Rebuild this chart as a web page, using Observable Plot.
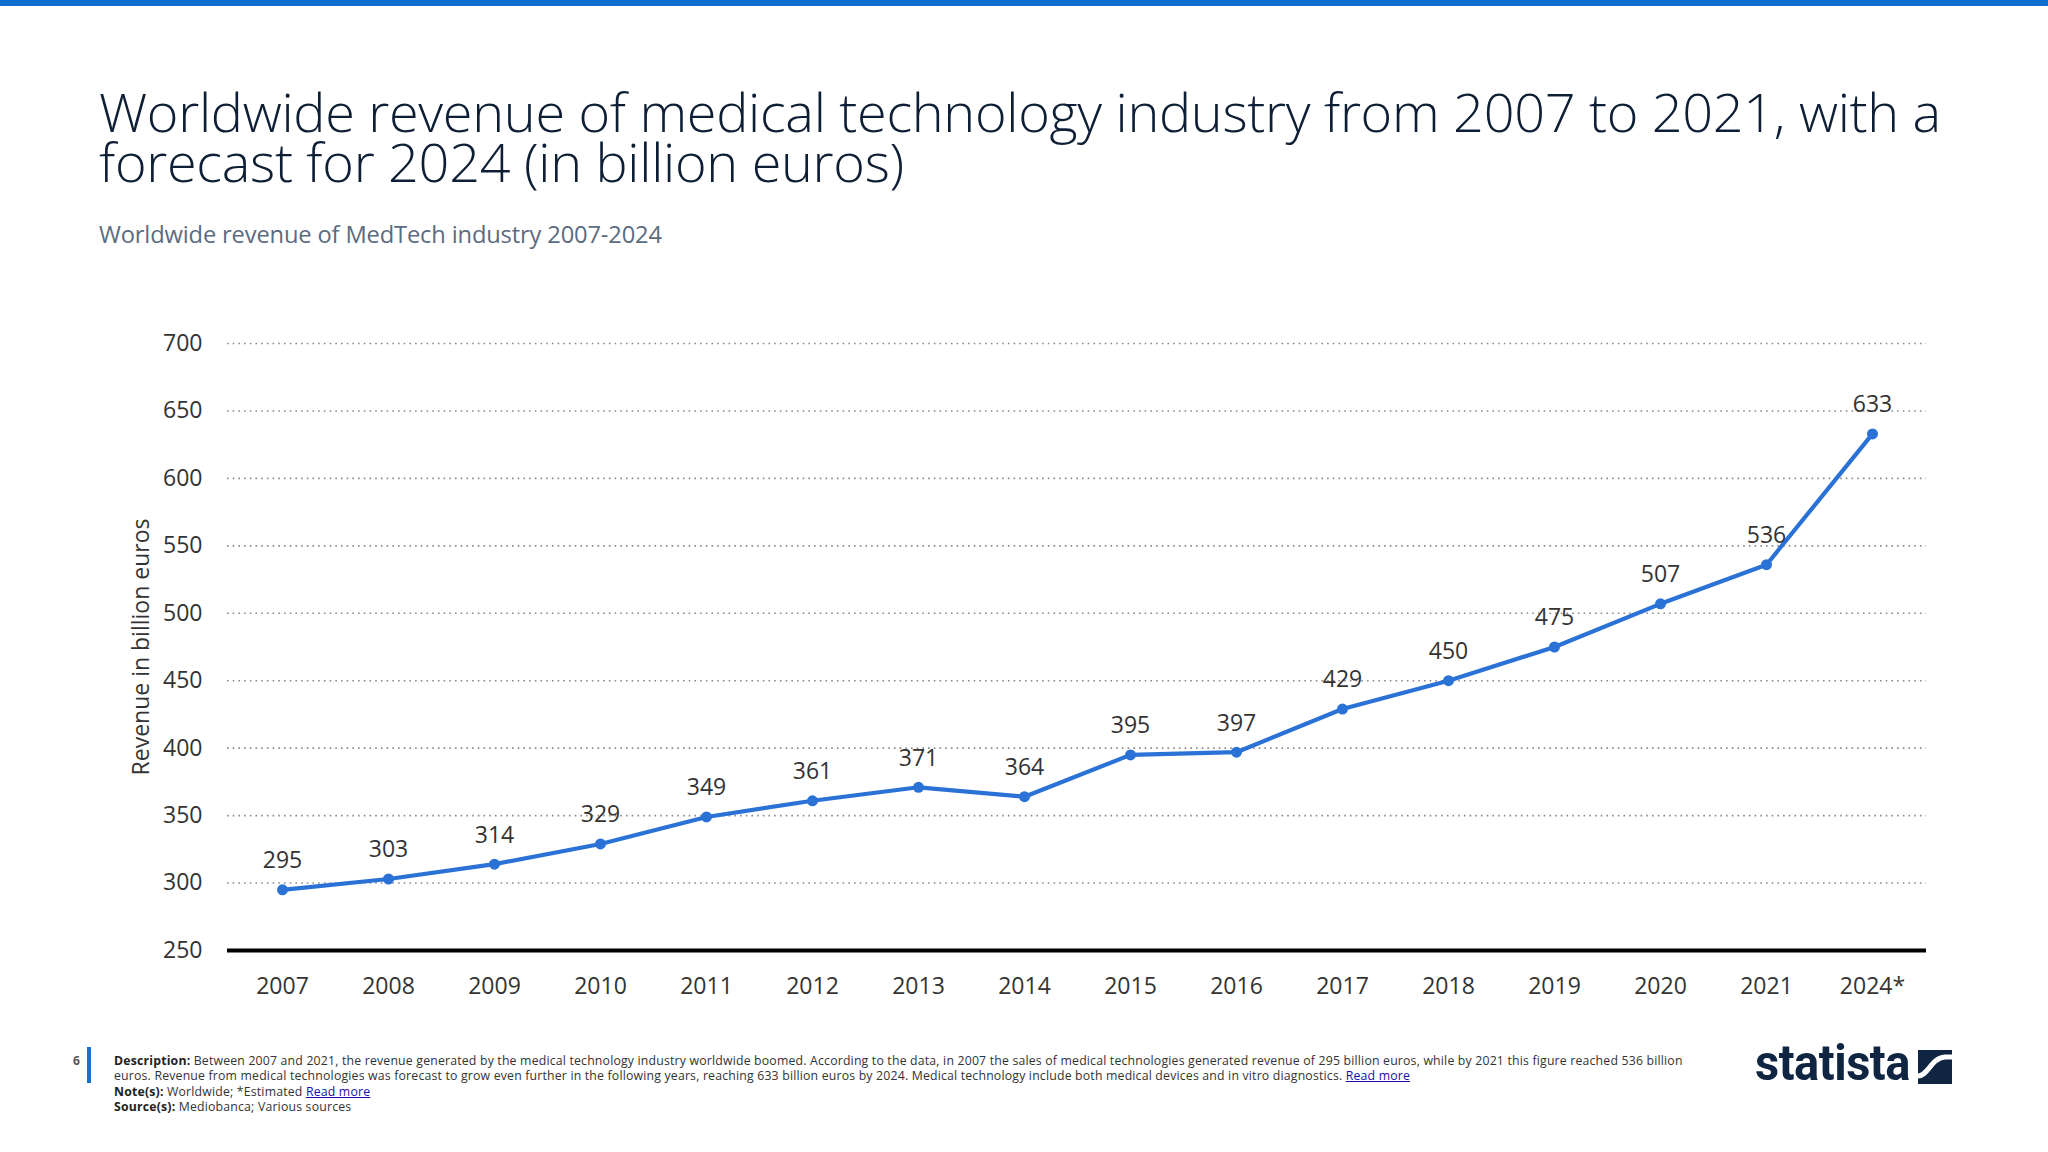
<!DOCTYPE html>
<html>
<head>
<meta charset="utf-8">
<script src="https://cdn.jsdelivr.net/npm/d3@7"></script>
<script src="https://cdn.jsdelivr.net/npm/@observablehq/plot@0.6"></script>
<style>
  html, body { margin: 0; padding: 0; background: #fff; }
  body { width: 2048px; height: 1152px; position: relative; overflow: hidden; font-family: "Open Sans", sans-serif; }
  #topbar { position: absolute; left: 0; top: 0; width: 2048px; height: 6px; background: #0f6fd0; }
  .title { position: absolute; left: 99px; width: 1920px; height: 50px; font-size: 54px; font-weight: 300; line-height: 50px; color: #0e1f35; letter-spacing: -0.3px; white-space: nowrap; }
  #t1 { top: 86px; }
  #t2 { top: 136px; }
  #subtitle { position: absolute; left: 99px; top: 218px; font-size: 23.7px; color: #5b6b80; letter-spacing: -0.15px; }
  #chart { position: absolute; left: 0; top: 290px; }
  #pagenum { position: absolute; left: 73px; top: 1052px; font-size: 12px; font-weight: 700; color: #555; }
  #footbar { position: absolute; left: 87px; top: 1047px; width: 4px; height: 36px; background: #1673cc; }
  #footer { position: absolute; left: 114px; top: 1053px; font-size: 13px; line-height: 15.3px; color: #333; white-space: nowrap; letter-spacing: 0.2px; transform-origin: 0 0; transform: scaleX(0.944); }
  #footer b { color: #222; }
  #footer a { color: #1a0dab; text-decoration: underline; }
  #logo { position: absolute; left: 1755px; top: 1034px; font-family: Roboto, sans-serif; font-weight: 700; font-size: 50px; color: #0f2542; transform-origin: 0 0; transform: scaleX(0.94); letter-spacing: -0.5px; }
  #logoicon { position: absolute; left: 1918px; top: 1050px; }
</style>
</head>
<body>
<div id="topbar"></div>
<div class="title" id="t1">Worldwide revenue of medical technology industry from 2007 to 2021, with a</div>
<div class="title" id="t2">forecast for 2024 (in billion euros)</div>
<div id="subtitle">Worldwide revenue of MedTech industry 2007-2024</div>
<div id="chart"></div>
<div id="pagenum">6</div>
<div id="footbar"></div>
<div id="footer">
<b>Description:</b> Between 2007 and 2021, the revenue generated by the medical technology industry worldwide boomed. According to the data, in 2007 the sales of medical technologies generated revenue of 295 billion euros, while by 2021 this figure reached 536 billion<br>
euros. Revenue from medical technologies was forecast to grow even further in the following years, reaching 633 billion euros by 2024. Medical technology include both medical devices and in vitro diagnostics. <a>Read more</a><br>
<b>Note(s):</b> Worldwide; *Estimated <a>Read more</a><br>
<b>Source(s):</b> Mediobanca; Various sources
</div>
<div id="logo">statista</div>
<svg id="logoicon" width="34" height="34" viewBox="0 0 34 34">
  <rect x="0" y="0" width="34" height="34" fill="#0f2542"></rect>
  <path d="M0,26 C10,26 13,8 27,7 L34,7" stroke="#fff" stroke-width="5" fill="none"></path>
</svg>
<script>
const years = ["2007","2008","2009","2010","2011","2012","2013","2014","2015","2016","2017","2018","2019","2020","2021","2024*"];
const revenue = [295, 303, 314, 329, 349, 361, 371, 364, 395, 397, 429, 450, 475, 507, 536, 633];
const yTicks = [250, 300, 350, 400, 450, 500, 550, 600, 650, 700];
const gridValues = [300, 350, 400, 450, 500, 550, 600, 650, 700];
const yLabel = "Revenue in billion euros";

const data = years.map((y, i) => ({year: y, value: revenue[i]}));
const blue = "#2b72d6";

const chart = Plot.plot({
  width: 2048,
  height: 720,
  marginLeft: 227,
  marginRight: 122,
  marginTop: 53,
  marginBottom: 60,
  style: { fontFamily: "'Open Sans', sans-serif", color: "#333", background: "transparent" },
  x: { type: "point", domain: years, padding: 0.5 },
  y: { domain: [250, 700] },
  marks: [
    Plot.ruleY(gridValues, { stroke: "#8a8a8a", strokeWidth: 1.6, strokeDasharray: "1.6,4.1" }),
    Plot.axisY({ ticks: yTicks, tickSize: 0, tickPadding: 25, fontSize: 23, label: yLabel, labelAnchor: "center", labelArrow: "none", labelOffset: 95 }),
    Plot.axisX({ tickSize: 0, tickPadding: 27, fontSize: 23, label: null }),
    Plot.ruleY([250], { stroke: "#000", strokeWidth: 4 }),
    Plot.line(data, { x: "year", y: "value", stroke: blue, strokeWidth: 4.2 }),
    Plot.dot(data, { x: "year", y: "value", r: 5.5, fill: blue, stroke: "none" }),
    Plot.text(data, { x: "year", y: "value", text: d => String(d.value), dy: -29, fontSize: 23, fill: "#333" })
  ]
});
document.getElementById("chart").appendChild(chart);
</script>
</body>
</html>
